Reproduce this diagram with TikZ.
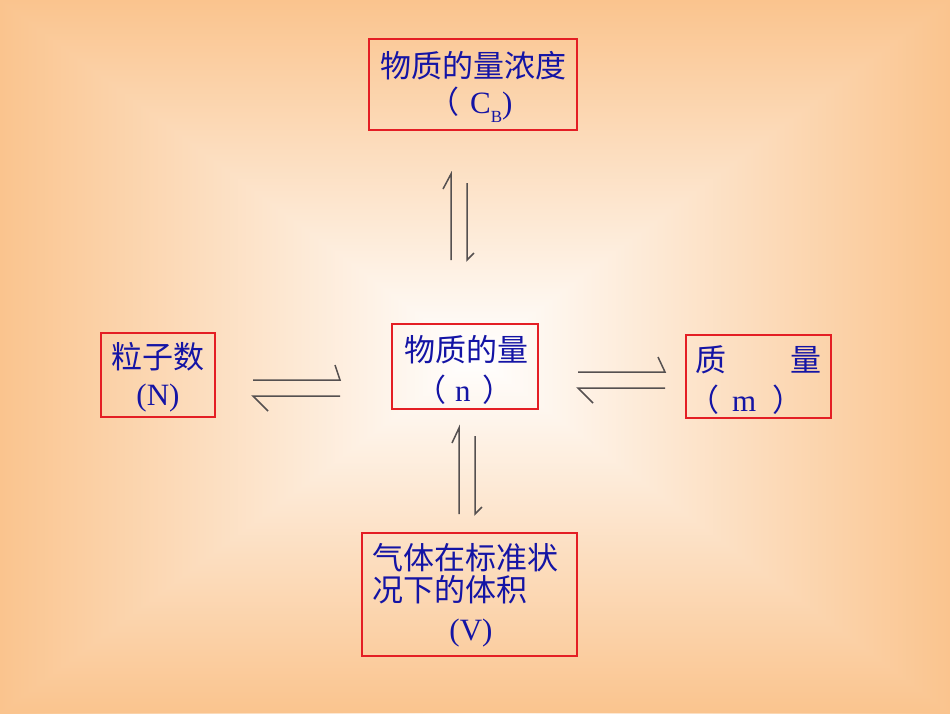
\documentclass[tikz,border=0pt]{standalone}
\usepackage{fontspec}
\setmainfont{Liberation Serif}
\newfontfamily\cjk{Noto Sans CJK SC}
\definecolor{peach}{RGB}{250,196,142}
\definecolor{txt}{RGB}{20,20,165}
\definecolor{boxred}{RGB}{228,30,36}
\definecolor{arr}{RGB}{85,80,80}
\begin{document}
\begin{tikzpicture}[x=1pt,y=-1pt,
  box/.style={draw=boxred,line width=1.2pt,inner sep=0pt,fill=none},
  lbl/.style={text=txt,font=\fontsize{31}{36}\selectfont,inner sep=0pt},
  harp/.style={draw=arr,line width=1.5pt}]
\useasboundingbox (0,0) rectangle (950,713);
% background: rectangular gradient from centre
\shade[left color=peach,right color=white] (0,0) rectangle (475,713);
\shade[left color=white,right color=peach] (475,0) rectangle (950,713);
\shade[top color=peach,bottom color=white] (0,0) -- (950,0) -- (475,356.5) -- cycle;
\shade[top color=white,bottom color=peach] (0,713) -- (950,713) -- (475,356.5) -- cycle;

% boxes
\node[box,minimum width=208pt,minimum height=91pt] (cb) at (473,84.5) {};
\node[box,minimum width=114pt,minimum height=84pt] (nn) at (158,375) {};
\node[box,minimum width=146pt,minimum height=85pt] (n) at (465,366.5) {};
\node[box,minimum width=145pt,minimum height=83pt] (m) at (758.5,376.5) {};
\node[box,minimum width=215pt,minimum height=123pt] (v) at (469.5,594.5) {};

% texts
\node[lbl] (cb1) at (473,66) {\cjk 物质的量浓度};
\node[lbl,anchor=west] (cb2) at (428,105) {{\cjk （}\hspace{11pt}C\raisebox{-0.28em}{\fontsize{17}{17}\selectfont B})};
\node[lbl] (nn1) at (158,357) {\cjk 粒子数};
\node[lbl] (nn2) at (158,398) {(N)};
\node[lbl] (n1) at (466,350) {\cjk 物质的量};
\node[lbl,anchor=west] (n2) at (415,390) {{\cjk （}\hspace{9pt}n\hspace{12pt}{\cjk ）}};
\node[lbl,anchor=west] (m1) at (695,360) {\cjk 质\hspace{64pt}量};
\node[lbl,anchor=west] (m2) at (688,400) {{\cjk （}\hspace{13pt}m\hspace{16pt}{\cjk ）}};
\node[lbl,anchor=west] (v1) at (372,558) {\cjk 气体在标准状};
\node[lbl,anchor=west] (v2) at (372,590) {\cjk 况下的体积};
\node[lbl] (v3) at (471,633) {(V)};

% harpoons
\draw[harp] (253,380) -- (340,380) -- (335,365);
\draw[harp] (268,411) -- (253,396) -- (340,396);
\draw[harp] (578,372) -- (665,372) -- (658,357);
\draw[harp] (593,403) -- (578,388) -- (665,388);
\draw[harp] (443,189) -- (451,174) -- (451,260);
\draw[harp] (467,183) -- (467,260) -- (474,253);
\draw[harp] (452,443) -- (459,428) -- (459,514);
\draw[harp] (475,436) -- (475,514) -- (482,507);
\end{tikzpicture}
\end{document}
